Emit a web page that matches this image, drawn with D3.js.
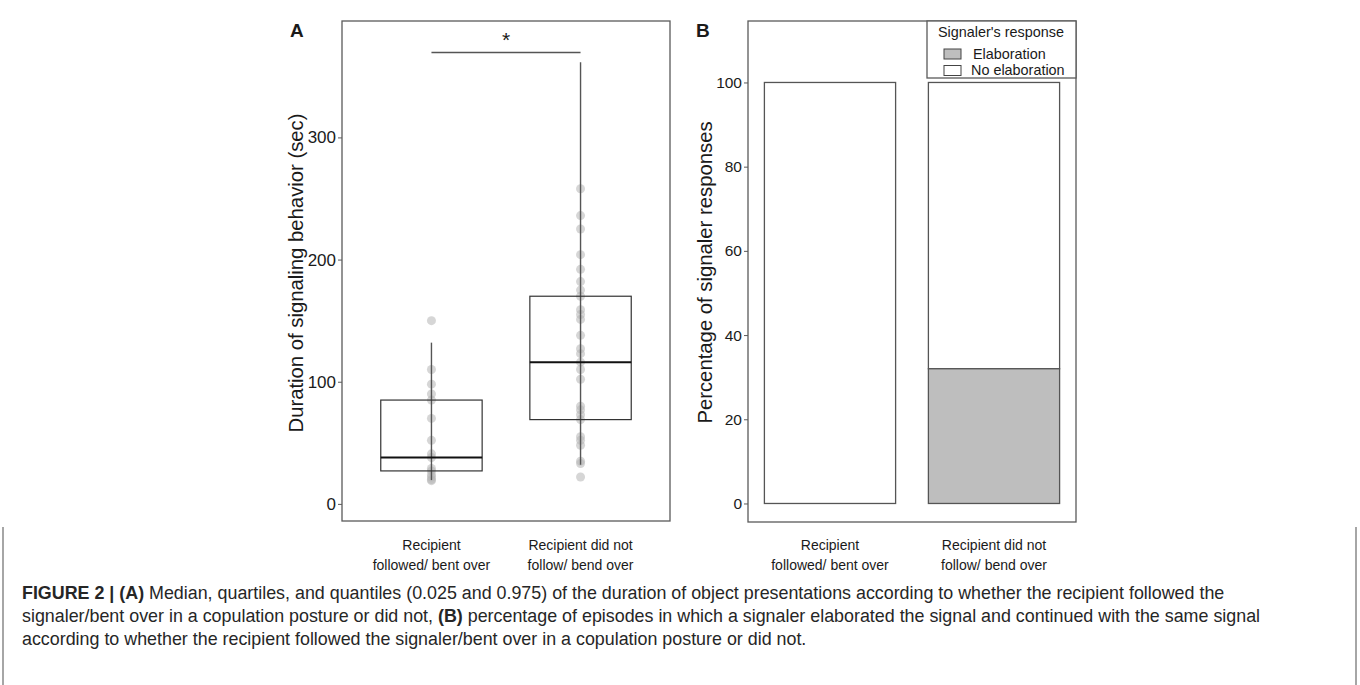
<!DOCTYPE html>
<html><head><meta charset="utf-8">
<script src="https://cdn.jsdelivr.net/npm/d3@7"></script>
<style>
body{margin:0;background:#fff;}
svg text{font-family:"Liberation Sans",Arial,sans-serif;}
</style></head>
<body><svg id="c" width="1360" height="685"></svg>
<script>
// ---- Panel A data ----
const groupsA = ["g1","g2"];
const groupLabelsA = [["Recipient","followed/ bent over"],["Recipient did not","follow/ bend over"]];
const pointsG1 = [150,110,98,90,85,70,52,41,38,29,27,24,22,20,19];
const pointsG2 = [258,236,225,204,192,182,175,170,159,155,151,138,127,123,116,110,102,80,77,73,69,55,52,48,35,33,22];
const boxLow = [27,69];     // lower quartile
const boxMed = [38,116];    // median
const boxHigh = [85,170];   // upper quartile
const whiskLow = [19.5,32]; // 0.025 quantile
const whiskHigh = [132,361.5]; // 0.975 quantile
const sigValue = 369.5;
const ticksA = [0,100,200,300];

// ---- Panel B data ----
const groupsB = ["g1","g2"];
const elaboration = [0,32];
const noElaboration = [100,68];
const ticksB = [0,20,40,60,80,100];
const legendLabels = ["Elaboration","No elaboration"];

const svg = d3.select("#c");
const ink = "#1a1a1a", frame = "#5a5a5a";

// ================= Panel A =================
const A = {l:342,t:21,r:670,b:521};
const xA = d3.scalePoint().domain(groupsA).range([A.l,A.r]).padding(0.6);
const yA = d3.scaleLinear().domain([-14,395.3]).range([A.b,A.t]);
const bwA = xA.step()*0.68;
const gA = svg.append("g");
gA.append("rect").attr("x",A.l).attr("y",A.t).attr("width",A.r-A.l).attr("height",A.b-A.t)
  .attr("fill","none").attr("stroke",frame).attr("stroke-width",1.3);
const axA = gA.append("g").attr("transform",`translate(${A.l},0)`)
  .call(d3.axisLeft(yA).tickValues(ticksA).tickSize(4).tickPadding(2));
axA.select(".domain").remove();
axA.selectAll("line").attr("stroke",frame);
axA.selectAll("text").attr("font-size",17).attr("fill",ink);
gA.append("text").attr("transform",`translate(303,${(A.t+A.b)/2+2}) rotate(-90)`)
  .attr("text-anchor","middle").attr("font-size",20.3).attr("fill",ink)
  .text("Duration of signaling behavior (sec)");
// points
const allPts = [];
pointsG1.forEach(v=>allPts.push({g:"g1",v}));
pointsG2.forEach(v=>allPts.push({g:"g2",v}));
gA.selectAll("circle.pt").data(allPts).join("circle").attr("class","pt")
  .attr("cx",d=>xA(d.g)).attr("cy",d=>yA(d.v)).attr("r",4.5)
  .attr("fill","#b4b4b4").attr("fill-opacity",0.55);
groupsA.forEach((g,i)=>{
  const cx = xA(g);
  gA.append("line").attr("x1",cx).attr("x2",cx).attr("y1",yA(whiskLow[i])).attr("y2",yA(whiskHigh[i]))
    .attr("stroke","#555").attr("stroke-width",1.4);
  gA.append("rect").attr("x",cx-bwA/2).attr("width",bwA).attr("y",yA(boxHigh[i])).attr("height",yA(boxLow[i])-yA(boxHigh[i]))
    .attr("fill","none").attr("stroke","#333").attr("stroke-width",1.2);
  gA.append("line").attr("x1",cx-bwA/2).attr("x2",cx+bwA/2).attr("y1",yA(boxMed[i])).attr("y2",yA(boxMed[i]))
    .attr("stroke","#111").attr("stroke-width",2);
  groupLabelsA[i].forEach((t,j)=>{
    gA.append("text").attr("x",cx).attr("y",550+j*20).attr("text-anchor","middle")
      .attr("font-size",14).attr("fill",ink).text(t);
  });
});
gA.append("line").attr("x1",xA("g1")).attr("x2",xA("g2")).attr("y1",yA(sigValue)).attr("y2",yA(sigValue))
  .attr("stroke","#555").attr("stroke-width",1.3);
gA.append("text").attr("x",(xA("g1")+xA("g2"))/2).attr("y",yA(sigValue)-6).attr("text-anchor","middle")
  .attr("font-size",21).attr("fill",ink).text("*");
gA.append("text").attr("x",290).attr("y",37).attr("font-size",19).attr("font-weight","bold").attr("fill",ink).text("A");

// ================= Panel B =================
const B = {l:748,t:21,r:1076,b:522};
const xB = d3.scaleBand().domain(groupsB).range([B.l,B.r]).paddingInner(0.2).paddingOuter(0.1);
const yB = d3.scaleLinear().domain([-4.4,114.6]).range([B.b,B.t]);
const gB = svg.append("g");
gB.append("rect").attr("x",B.l).attr("y",B.t).attr("width",B.r-B.l).attr("height",B.b-B.t)
  .attr("fill","none").attr("stroke",frame).attr("stroke-width",1.3);
const axB = gB.append("g").attr("transform",`translate(${B.l},0)`)
  .call(d3.axisLeft(yB).tickValues(ticksB).tickSize(4).tickPadding(2));
axB.select(".domain").remove();
axB.selectAll("line").attr("stroke",frame);
axB.selectAll("text").attr("font-size",15.5).attr("fill",ink);
gB.append("text").attr("transform",`translate(712,${(B.t+B.b)/2+1}) rotate(-90)`)
  .attr("text-anchor","middle").attr("font-size",20.3).attr("fill",ink)
  .text("Percentage of signaler responses");
groupsB.forEach((g,i)=>{
  const x0 = xB(g), w = xB.bandwidth();
  gB.append("rect").attr("x",x0).attr("width",w).attr("y",yB(elaboration[i]+noElaboration[i]))
    .attr("height",yB(elaboration[i])-yB(elaboration[i]+noElaboration[i]))
    .attr("fill","#ffffff").attr("stroke","#555").attr("stroke-width",1.3);
  gB.append("rect").attr("x",x0).attr("width",w).attr("y",yB(elaboration[i]))
    .attr("height",yB(0)-yB(elaboration[i]))
    .attr("fill","#bebebe").attr("stroke","#555").attr("stroke-width",1.3);
  groupLabelsA[i].forEach((t,j)=>{
    gB.append("text").attr("x",x0+w/2).attr("y",550+j*20).attr("text-anchor","middle")
      .attr("font-size",14).attr("fill",ink).text(t);
  });
});
gB.append("text").attr("x",696).attr("y",37).attr("font-size",19).attr("font-weight","bold").attr("fill",ink).text("B");
// legend
const lg = gB.append("g");
lg.append("rect").attr("x",927).attr("y",B.t).attr("width",B.r-927).attr("height",57)
  .attr("fill","#fff").attr("stroke",frame).attr("stroke-width",1.3);
lg.append("text").attr("x",1001).attr("y",37).attr("text-anchor","middle").attr("font-size",14.4).attr("fill",ink).text("Signaler's response");
const legFills = ["#bebebe","#ffffff"];
legendLabels.forEach((t,i)=>{
  lg.append("rect").attr("x",944).attr("y",49+i*16.5).attr("width",17).attr("height",10)
    .attr("fill",legFills[i]).attr("stroke","#444").attr("stroke-width",1);
  lg.append("text").attr("x",i===0?973:971).attr("y",58.5+i*16.5).attr("font-size",14.4).attr("fill",ink).text(t);
});

// ================= Caption =================
svg.append("line").attr("x1",3).attr("x2",3).attr("y1",527).attr("y2",685).attr("stroke","#888").attr("stroke-width",1.5);
svg.append("line").attr("x1",1356).attr("x2",1356).attr("y1",527).attr("y2",685).attr("stroke","#888").attr("stroke-width",1.5);
const capLines = [
  [["FIGURE 2 | (A)",true],[" Median, quartiles, and quantiles (0.025 and 0.975) of the duration of object presentations according to whether the recipient followed the",false]],
  [["signaler/bent over in a copulation posture or did not, ",false],["(B)",true],[" percentage of episodes in which a signaler elaborated the signal and continued with the same signal",false]],
  [["according to whether the recipient followed the signaler/bent over in a copulation posture or did not.",false]]
];
const capTexts = capLines.map((ln,i)=>{
  const t = svg.append("text").attr("x",22).attr("y",599+i*23).attr("font-size",15).attr("fill","#262626");
  ln.forEach(([s,b])=>t.append("tspan").attr("font-weight",b?"bold":"normal").text(s));
  return t;
});
const w0 = capTexts[0].node().getComputedTextLength();
const fs = 15*1203/w0;
capTexts.forEach(t=>t.attr("font-size",fs));
</script></body></html>
